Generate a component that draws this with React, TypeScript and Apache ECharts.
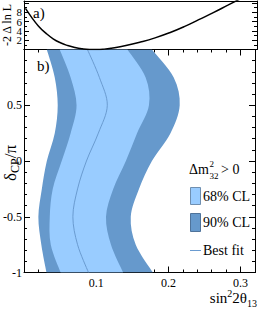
import React, { useEffect, useRef } from "react";
import * as echarts from "echarts";

// delta_CP / pi sample values (top to bottom)
const deltaCP = [1, 0.75, 0.5, 0.25, 0, -0.25, -0.5, -0.75, -1];
// sin^2 2theta13 boundaries at each deltaCP
const cl90Left = [0.0316, 0.0426, 0.0467, 0.0426, 0.0316, 0.0247, 0.0199, 0.024, 0.0312];
const cl68Left = [0.0495, 0.0646, 0.0728, 0.0646, 0.0522, 0.0398, 0.0357, 0.0371, 0.0508];
const bestFit = [0.0879, 0.1044, 0.1154, 0.103, 0.0865, 0.0742, 0.0677, 0.0742, 0.0893];
const cl68Right = [0.1433, 0.1685, 0.1731, 0.1566, 0.1411, 0.1236, 0.1136, 0.1205, 0.1374];
const cl90Right = [0.1772, 0.2074, 0.2157, 0.2029, 0.1772, 0.1593, 0.1479, 0.1548, 0.1786];

// -2 Delta ln L scan
const scanX = [0.002, 0.01, 0.02, 0.03, 0.04, 0.05, 0.06, 0.07, 0.08, 0.09, 0.1, 0.11, 0.12, 0.14, 0.16, 0.18, 0.2, 0.22, 0.24, 0.26, 0.28, 0.3];
const scanY = [8.8, 7.0, 5.0, 3.5, 2.3, 1.45, 0.85, 0.42, 0.15, 0.02, 0.0, 0.08, 0.28, 0.85, 1.6, 2.5, 3.6, 4.9, 6.4, 7.9, 9.5, 11.1];

const xTickLabels = ["0.1", "0.2", "0.3"];
const yTickLabelsB = ["-1", "-0.5", "0", "0.5"];
const yTickLabelsA = ["2", "4", "6", "8"];

const LIGHT = "#99CCFF";
const DARK = "#6699CC";
const LINE = "#6A9BD0";
const FONT = "Liberation Serif";

function smoothSeg(pts: number[][]): string {
  let d = "";
  for (let i = 0; i < pts.length - 1; i++) {
    const p0 = pts[Math.max(i - 1, 0)];
    const p1 = pts[i];
    const p2 = pts[i + 1];
    const p3 = pts[Math.min(i + 2, pts.length - 1)];
    const c1 = [p1[0] + (p2[0] - p0[0]) / 6, p1[1] + (p2[1] - p0[1]) / 6];
    const c2 = [p2[0] - (p3[0] - p1[0]) / 6, p2[1] - (p3[1] - p1[1]) / 6];
    d += ` C${c1[0]},${c1[1]} ${c2[0]},${c2[1]} ${p2[0]},${p2[1]}`;
  }
  return d;
}

function regionSeries(L: number[], R: number[], color: string) {
  return {
    type: "custom",
    coordinateSystem: "cartesian2d",
    xAxisIndex: 2,
    yAxisIndex: 4,
    silent: true,
    clip: true,
    data: [[0, 0]],
    renderItem: (_p: any, api: any) => {
      const left = deltaCP.map((d, i) => api.coord([L[i], d]));
      const right = deltaCP.map((d, i) => api.coord([R[i], d])).reverse();
      const path =
        `M${left[0][0]},${left[0][1]}` +
        smoothSeg(left) +
        ` L${right[0][0]},${right[0][1]}` +
        smoothSeg(right) +
        " Z";
      return { type: "path", shape: { pathData: path }, style: { fill: color, stroke: null } };
    },
  };
}

function lineSeriesCustom(V: number[], color: string) {
  return {
    type: "custom",
    coordinateSystem: "cartesian2d",
    xAxisIndex: 2,
    yAxisIndex: 4,
    silent: true,
    clip: true,
    data: [[0, 0]],
    renderItem: (_p: any, api: any) => {
      const pts = deltaCP.map((d, i) => api.coord([V[i], d]));
      const path = `M${pts[0][0]},${pts[0][1]}` + smoothSeg(pts);
      return { type: "path", shape: { pathData: path }, style: { fill: null, stroke: color, lineWidth: 1 } };
    },
  };
}

const axisLine = { show: true, onZero: false, lineStyle: { color: "#000", width: 1 } };
const noLine = { show: false, onZero: false };
const labelStyle = { color: "#000", fontFamily: FONT, fontSize: 12 };
const tick = (len: number) => ({ show: true, inside: true, length: len, lineStyle: { color: "#000", width: 1 } });

export default function App() {
  const ref = useRef<HTMLDivElement>(null);
  useEffect(() => {
    const chart = echarts.init(ref.current!, null, { renderer: "svg", width: 258, height: 316 });
    const fmtX = (v: number) => {
      const s = (Math.round(v * 100) / 100).toFixed(2).replace(/0$/, "");
      return xTickLabels.includes(s) ? s : "";
    };
    const fmtYB = (v: number) => {
      const s = String(Math.round(v * 10) / 10);
      return yTickLabelsB.includes(s) ? s : "";
    };
    const fmtYA = (v: number) => {
      const r = Math.round(v * 10) / 10;
      const s = String(r);
      return yTickLabelsA.includes(s) ? s : "";
    };
    const xBase = { type: "value", min: 0, max: 0.32, splitLine: { show: false } };
    const option: any = {
      animation: false,
      backgroundColor: "#fff",
      grid: [
        { left: 24, top: 1, width: 233, height: 48.5 },
        { left: 24, top: 49.5, width: 233, height: 223 },
      ],
      xAxis: [
        { ...xBase, gridIndex: 0, position: "bottom", interval: 0.1, axisLine, axisTick: { show: false }, axisLabel: { show: false } },
        { ...xBase, gridIndex: 0, position: "top", interval: 0.1, axisLine, axisTick: { show: false }, axisLabel: { show: false } },
        { ...xBase, gridIndex: 1, position: "bottom", interval: 0.1, axisLine, axisTick: tick(6), axisLabel: { ...labelStyle, margin: 4, formatter: fmtX, hideOverlap: false, showMinLabel: true, showMaxLabel: true } },
        { ...xBase, gridIndex: 1, position: "bottom", interval: 0.02, axisLine: noLine, axisTick: tick(3), axisLabel: { show: false } },
        { ...xBase, gridIndex: 1, position: "top", interval: 0.1, axisLine, axisTick: tick(6), axisLabel: { show: false } },
        { ...xBase, gridIndex: 1, position: "top", interval: 0.02, axisLine: noLine, axisTick: tick(3), axisLabel: { show: false } },
      ],
      yAxis: [
        { type: "value", gridIndex: 0, position: "left", min: 0, max: 10.4, interval: 2, splitLine: { show: false }, axisLine, axisTick: tick(5), axisLabel: { ...labelStyle, fontSize: 11, margin: 2, formatter: fmtYA } },
        { type: "value", gridIndex: 0, position: "left", min: 0, max: 10.4, interval: 1, splitLine: { show: false }, axisLine: noLine, axisTick: tick(3), axisLabel: { show: false } },
        { type: "value", gridIndex: 0, position: "right", min: 0, max: 10.4, interval: 2, splitLine: { show: false }, axisLine, axisTick: tick(5), axisLabel: { show: false } },
        { type: "value", gridIndex: 0, position: "right", min: 0, max: 10.4, interval: 1, splitLine: { show: false }, axisLine: noLine, axisTick: tick(3), axisLabel: { show: false } },
        { type: "value", gridIndex: 1, position: "left", min: -1, max: 1, interval: 0.5, splitLine: { show: false }, axisLine, axisTick: tick(6), minorTick: { show: true, splitNumber: 5, length: 3, lineStyle: { color: "#000" } }, axisLabel: { ...labelStyle, margin: 2, formatter: fmtYB, showMinLabel: true } },
        { type: "value", gridIndex: 1, position: "right", min: -1, max: 1, interval: 0.5, splitLine: { show: false }, axisLine, axisTick: tick(6), minorTick: { show: true, splitNumber: 5, length: 3, lineStyle: { color: "#000" } }, axisLabel: { show: false } },
      ],
      series: [
        regionSeries(cl90Left, cl90Right, DARK),
        regionSeries(cl68Left, cl68Right, LIGHT),
        lineSeriesCustom(bestFit, LINE),
        {
          type: "line",
          xAxisIndex: 0,
          yAxisIndex: 0,
          data: scanX.map((x, i) => [x, scanY[i]]),
          smooth: true,
          showSymbol: false,
          clip: true,
          lineStyle: { color: "#000", width: 1.5 },
          silent: true,
        },
      ],
      graphic: [
        { type: "text", x: 33, y: 13, style: { text: "a)", fontFamily: FONT, fontSize: 15, fill: "#000", verticalAlign: "middle" } },
        { type: "text", x: 37, y: 66, style: { text: "b)", fontFamily: FONT, fontSize: 15, fill: "#000", verticalAlign: "middle" } },
        { type: "text", x: 7, y: 25, rotation: Math.PI / 2, style: { text: "-2 Δ ln L", fontFamily: FONT, fontSize: 12, fill: "#000", align: "center", verticalAlign: "middle" } },
        {
          type: "text", x: 10, y: 163, rotation: Math.PI / 2,
          style: {
            text: "{a|δ}{s|CP}{a|/π}", align: "center", verticalAlign: "middle", fill: "#000",
            rich: {
              a: { fontFamily: FONT, fontSize: 17, fill: "#000", lineHeight: 22 },
              s: { fontFamily: FONT, fontSize: 12, fill: "#000", verticalAlign: "bottom", lineHeight: 22 },
            },
          },
        },
        {
          type: "text", x: 257, y: 298,
          style: {
            text: "{a|sin}{p|2}{a|2θ}{s|13}", align: "right", verticalAlign: "middle", fill: "#000",
            rich: {
              a: { fontFamily: FONT, fontSize: 15, fill: "#000", lineHeight: 20 },
              p: { fontFamily: FONT, fontSize: 10, fill: "#000", verticalAlign: "top", lineHeight: 20 },
              s: { fontFamily: FONT, fontSize: 10, fill: "#000", verticalAlign: "bottom", lineHeight: 20 },
            },
          },
        },
        // legend header
        { type: "text", x: 189, y: 169, style: { text: "Δm", fontFamily: FONT, fontSize: 14, fill: "#000", verticalAlign: "middle" } },
        { type: "text", x: 209.5, y: 163.5, style: { text: "2", fontFamily: FONT, fontSize: 9, fill: "#000", verticalAlign: "middle" } },
        { type: "text", x: 209.5, y: 175.5, style: { text: "32", fontFamily: FONT, fontSize: 9, fill: "#000", verticalAlign: "middle" } },
        { type: "text", x: 221, y: 169, style: { text: "> 0", fontFamily: FONT, fontSize: 14, fill: "#000", verticalAlign: "middle" } },
        // legend items
        { type: "rect", shape: { x: 190.5, y: 187.5, width: 10, height: 17 }, style: { fill: LIGHT, stroke: "#6F8FB0", lineWidth: 1 } },
        { type: "text", x: 203, y: 196, style: { text: "68% CL", fontFamily: FONT, fontSize: 14, fill: "#000", verticalAlign: "middle" } },
        { type: "rect", shape: { x: 190.5, y: 213.5, width: 10, height: 18 }, style: { fill: DARK, stroke: "#4F739A", lineWidth: 1 } },
        { type: "text", x: 203, y: 222, style: { text: "90% CL", fontFamily: FONT, fontSize: 14, fill: "#000", verticalAlign: "middle" } },
        { type: "line", shape: { x1: 190, y1: 250.5, x2: 201, y2: 250.5 }, style: { stroke: LINE, lineWidth: 1 } },
        { type: "text", x: 203, y: 250, style: { text: "Best fit", fontFamily: FONT, fontSize: 14, fill: "#000", verticalAlign: "middle" } },
      ],
    };
    chart.setOption(option);
    return () => chart.dispose();
  }, []);
  return (
    <div
      ref={ref}
      style={{ position: "fixed", left: 0, top: 0, width: 258, height: 316, background: "#fff" }}
    />
  );
}
